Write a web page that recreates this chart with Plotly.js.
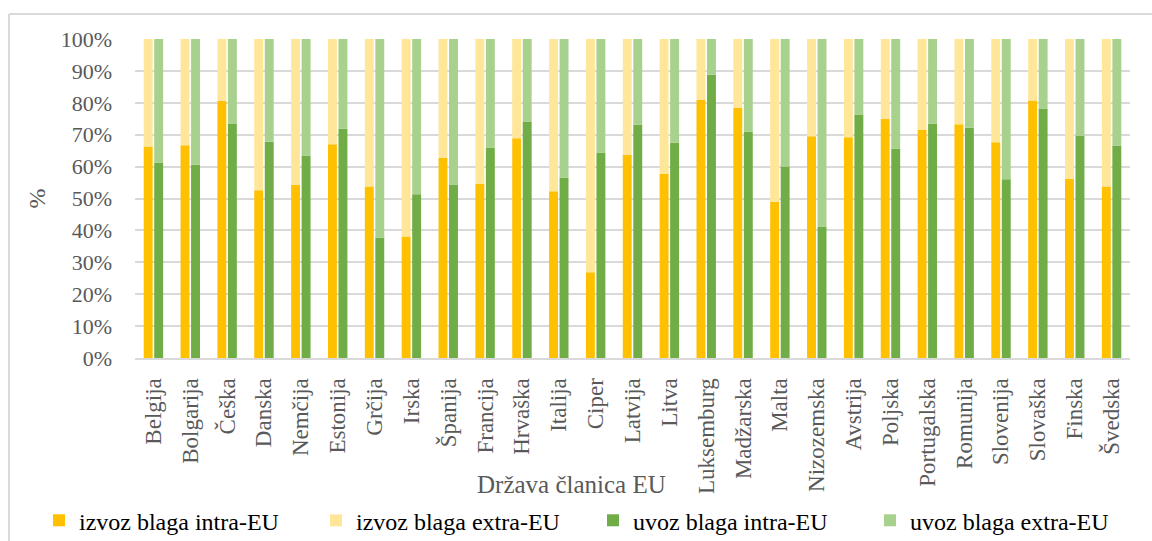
<!DOCTYPE html>
<html><head><meta charset="utf-8">
<script src="https://cdn.plot.ly/plotly-3.0.1.min.js"></script>
<style>html,body{margin:0;padding:0;background:#fff}</style>
</head><body><div id="chart" style="width:1152px;height:541px"></div>
<script>
const countries = ["Belgija","Bolgarija","Češka","Danska","Nemčija","Estonija","Grčija","Irska","Španija","Francija","Hrvaška","Italija","Ciper","Latvija","Litva","Luksemburg","Madžarska","Malta","Nizozemska","Avstrija","Poljska","Portugalska","Romunija","Slovenija","Slovaška","Finska","Švedska"];
const izvozIntra = [66.3,66.7,80.6,52.6,54.2,67.0,53.8,38.1,62.7,54.6,68.9,52.3,26.9,63.7,57.7,80.9,78.4,49.0,69.5,69.2,74.9,71.5,73.3,67.6,80.7,56.2,53.8];
const izvozExtra = [33.7,33.3,19.4,47.4,45.8,33.0,46.2,61.9,37.3,45.4,31.1,47.7,73.1,36.3,42.3,19.1,21.6,51.0,30.5,30.8,25.1,28.5,26.7,32.4,19.3,43.8,46.2];
const uvozIntra = [61.3,60.6,73.5,67.8,63.5,71.9,37.8,51.3,54.4,66.0,74.1,56.6,64.4,73.2,67.5,88.8,71.0,60.0,41.2,76.3,65.7,73.5,72.2,56.0,78.2,69.7,66.6];
const uvozExtra = [38.7,39.4,26.5,32.2,36.5,28.1,62.2,48.7,45.6,34.0,25.9,43.4,35.6,26.8,32.5,11.2,29.0,40.0,58.8,23.7,34.3,26.5,27.8,44.0,21.8,30.3,33.4];
const seriesNames = ["izvoz blaga intra-EU","izvoz blaga extra-EU","uvoz blaga intra-EU","uvoz blaga extra-EU"];
const colors = ["#FFC000","#FFE699","#70AD47","#A9D18E"];

const traces = [
  {type:'bar', name:seriesNames[0], x:countries, y:izvozIntra, offsetgroup:'izvoz', marker:{color:colors[0]}},
  {type:'bar', name:seriesNames[1], x:countries, y:izvozExtra, base:izvozIntra, offsetgroup:'izvoz', marker:{color:colors[1]}},
  {type:'bar', name:seriesNames[2], x:countries, y:uvozIntra, offsetgroup:'uvoz', marker:{color:colors[2]}},
  {type:'bar', name:seriesNames[3], x:countries, y:uvozExtra, base:uvozIntra, offsetgroup:'uvoz', marker:{color:colors[3]}}
];

const serif = 'Liberation Serif, Times New Roman, serif';
const layout = {
  width:1152, height:541,
  margin:{l:135, r:22, t:39, b:183, autoexpand:false},
  paper_bgcolor:'#fff', plot_bgcolor:'#fff',
  barmode:'group', bargap:0.43, bargroupgap:0.15,
  font:{family:serif, color:'#595959', size:22},
  xaxis:{
    type:'category', tickangle:-90, tickfont:{family:serif, size:23, color:'#595959'}, automargin:false,
    showgrid:false, showline:true, linecolor:'#d9d9d9', linewidth:2, ticks:'', ticklabelstandoff:9
  },
  yaxis:{
    range:[0,100], dtick:10, ticksuffix:'%', tickfont:{family:serif, size:22, color:'#595959'}, automargin:false,
    showgrid:true, gridcolor:'#d9d9d9', gridwidth:2, zeroline:false, showline:false, ticks:'',
    ticklabelstandoff:22,
    title:{text:'%', font:{family:serif, size:24, color:'#595959'}, standoff:8}
  },
  showlegend:true,
  legend:{orientation:'h', x:-0.0965, xanchor:'left', y:-0.51, yanchor:'middle',
    entrywidth:232, entrywidthmode:'pixels', traceorder:'normal',
    font:{family:serif, size:24, color:'#000'}, bgcolor:'rgba(0,0,0,0)'},
  annotations:[
    {text:'Država članica EU', xref:'paper', yref:'paper', x:0.439, y:-0.395, xanchor:'center', yanchor:'middle',
     showarrow:false, font:{family:serif, size:25, color:'#595959'}}
  ],
  shapes:[
    {type:'line', xref:'paper', yref:'paper', x0:-0.1266, x1:1.03, y0:1.078, y1:1.078, line:{color:'#d9d9d9', width:2}},
    {type:'line', xref:'paper', yref:'paper', x0:-0.1266, x1:-0.1266, y0:1.078, y1:-0.6, line:{color:'#d9d9d9', width:2}}
  ]
};
Plotly.newPlot('chart', traces, layout, {displayModeBar:false, staticPlot:true});
</script>
</body></html>
